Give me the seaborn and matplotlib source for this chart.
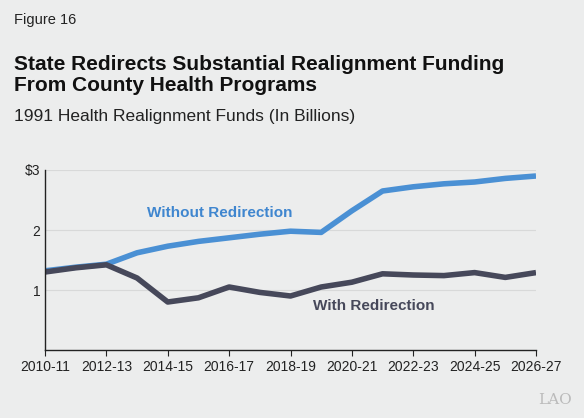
import matplotlib
matplotlib.use("Agg")
import matplotlib.pyplot as plt
import seaborn as sns
import pandas as pd

years = ["2010-11", "2011-12", "2012-13", "2013-14", "2014-15", "2015-16", "2016-17", "2017-18",
         "2018-19", "2019-20", "2020-21", "2021-22", "2022-23", "2023-24", "2024-25", "2025-26", "2026-27"]
without_redirection = [1.32, 1.38, 1.43, 1.62, 1.73, 1.81, 1.87, 1.93, 1.98, 1.96, 2.32, 2.65, 2.72, 2.77, 2.80, 2.86, 2.90]
with_redirection = [1.30, 1.37, 1.42, 1.20, 0.80, 0.87, 1.05, 0.96, 0.90, 1.05, 1.13, 1.27, 1.25, 1.24, 1.29, 1.21, 1.29]
tick_labels = years[::2]

bg = "#ECEDED"
sns.set_style("white")
plt.rcParams["font.family"] = ["Liberation Sans", "DejaVu Sans"]

df = pd.DataFrame({"x": range(len(years)), "Without": without_redirection, "With": with_redirection})

fig = plt.figure(figsize=(5.84, 4.18), dpi=100, facecolor=bg)
ax = fig.add_axes([45 / 584, 1 - 350 / 418, (536 - 45) / 584, 180 / 418])
ax.set_facecolor(bg)

sns.lineplot(data=df, x="x", y="Without", ax=ax, color="#4A90D4", lw=4, solid_capstyle="butt")
sns.lineplot(data=df, x="x", y="With", ax=ax, color="#46485A", lw=4, solid_capstyle="butt")

ax.set_xlim(0, len(years) - 1)
ax.set_ylim(0, 3)
ax.set_yticks([1, 2, 3])
ax.set_yticklabels(["1", "2", "$3"])
ax.set_xticks(range(0, len(years), 2))
ax.set_xticklabels(tick_labels)
ax.grid(axis="y", color="#D8D9D9", lw=0.8)
ax.set_xlabel("")
ax.set_ylabel("")
for s in ["top", "right"]:
    ax.spines[s].set_visible(False)
for s in ["left", "bottom"]:
    ax.spines[s].set_color("#222222")
    ax.spines[s].set_linewidth(1)
ax.tick_params(axis="both", labelsize=10, colors="#222222", length=4, direction="out", left=True, bottom=True)
ax.tick_params(axis="y", length=0)

ax.text(5.7, 2.28, "Without Redirection", color="#3F86CF", fontsize=11, fontweight="bold", ha="center", va="center")
ax.text(10.7, 0.73, "With Redirection", color="#46485A", fontsize=11, fontweight="bold", ha="center", va="center")

fig.text(14 / 584, 1 - 20 / 418, "Figure 16", fontsize=10.5, color="#222222", va="center")
fig.text(14 / 584, 1 - 75 / 418, "State Redirects Substantial Realignment Funding\nFrom County Health Programs",
         fontsize=15, fontweight="bold", color="#111111", va="center", linespacing=1.15)
fig.text(14 / 584, 1 - 116 / 418, "1991 Health Realignment Funds (In Billions)", fontsize=12.5, color="#222222", va="center")
fig.text(572 / 584, 1 - 400 / 418, "LAO", fontsize=11, color="#BBBBBB", ha="right", va="center", family="DejaVu Serif")

fig.savefig("out.png", dpi=100, facecolor=bg)
